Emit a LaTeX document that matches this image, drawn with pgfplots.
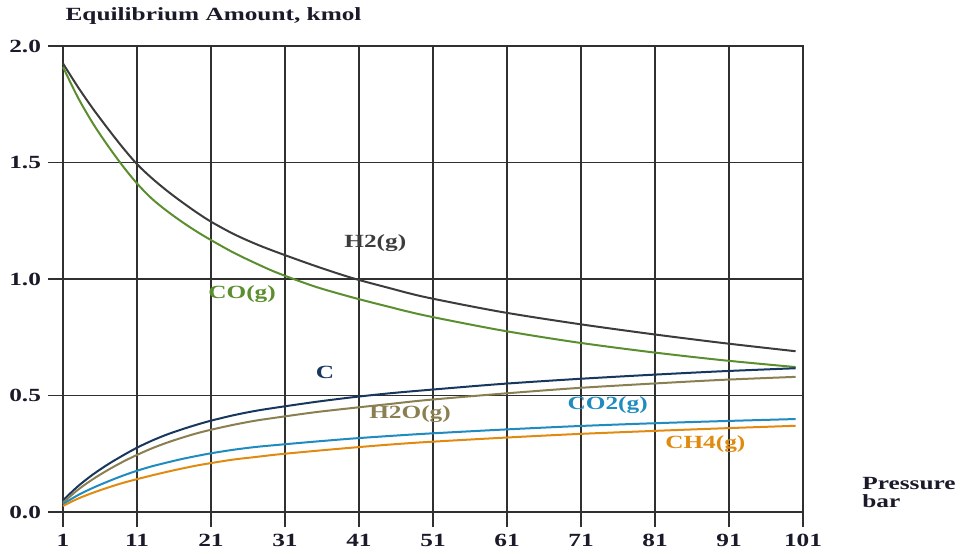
\documentclass[border=0pt]{standalone}
\usepackage{pgfplots}
\pgfplotsset{compat=1.18}
\usepackage{fontspec}
\setmainfont[FakeStretch=1.36]{Liberation Serif}
\definecolor{cH}{HTML}{3C3C3C}
\definecolor{cCO}{HTML}{5B8E2E}
\definecolor{cC}{HTML}{17375E}
\definecolor{cHO}{HTML}{8A7F50}
\definecolor{cCOO}{HTML}{1F8BBF}
\definecolor{cCH}{HTML}{E08B0F}
\definecolor{cgrid}{HTML}{303030}
\definecolor{ctxt}{HTML}{1A1A2A}
\begin{document}
\begin{tikzpicture}
\useasboundingbox (-31.5pt,-20.5pt) rectangle (448.5pt,256pt);
\begin{axis}[
  scale only axis, width=370pt, height=233pt,
  at={(0,0)}, anchor=south west,
  xmin=1, xmax=101, ymin=0, ymax=2,
  xtick={1,11,...,101}, ytick={0,0.5,1,1.5,2},
  grid=major, grid style={line width=0.65pt, color=cgrid},
  axis line style={line width=0.65pt, color=cgrid},
  tick style={line width=0.65pt, color=cgrid},
  tick align=outside, major tick length=7.5pt, tick pos=left,
  yticklabel style={/pgf/number format/.cd, fixed, fixed zerofill, precision=1},
  /pgf/number format/assume math mode=true,
  ticklabel style={font=\bfseries\fontsize{9.3}{10}\selectfont, text=ctxt},
  clip=false,
  every axis plot/.append style={line width=1pt, smooth, no markers},
]
\addplot[cH] coordinates {(1,1.925)(3,1.825)(5,1.733)(7,1.648)(9,1.567)(11,1.493)(13,1.433)(15,1.38)(17,1.332)(19,1.287)(21,1.246)(24,1.194)(27,1.151)(30,1.114)(35,1.057)(40,1.005)(45,0.962)(50,0.922)(60,0.86)(70,0.81)(80,0.766)(90,0.726)(100,0.69)};
\addplot[cCO] coordinates {(1,1.91)(3,1.78)(5,1.67)(7,1.575)(9,1.488)(11,1.41)(13,1.345)(15,1.293)(17,1.247)(19,1.205)(21,1.167)(24,1.114)(27,1.068)(30,1.026)(35,0.968)(40,0.922)(45,0.881)(50,0.843)(60,0.781)(70,0.73)(80,0.688)(90,0.652)(100,0.622)};
\addplot[cC] coordinates {(1,0.05)(3,0.11)(5,0.16)(7,0.203)(9,0.241)(11,0.276)(13,0.306)(15,0.332)(17,0.354)(19,0.374)(21,0.392)(24,0.415)(27,0.434)(30,0.449)(35,0.472)(40,0.492)(45,0.509)(50,0.523)(60,0.549)(70,0.57)(80,0.588)(90,0.604)(100,0.617)};
\addplot[cHO] coordinates {(1,0.04)(3,0.095)(5,0.14)(7,0.179)(9,0.214)(11,0.245)(13,0.273)(15,0.297)(17,0.318)(19,0.337)(21,0.353)(24,0.374)(27,0.392)(30,0.406)(35,0.428)(40,0.446)(45,0.463)(50,0.48)(60,0.507)(70,0.531)(80,0.55)(90,0.567)(100,0.58)};
\addplot[cCOO] coordinates {(1,0.034)(3,0.072)(5,0.103)(7,0.13)(9,0.155)(11,0.177)(13,0.196)(15,0.212)(17,0.227)(19,0.24)(21,0.252)(24,0.267)(27,0.279)(30,0.288)(35,0.302)(40,0.315)(45,0.326)(50,0.336)(60,0.353)(70,0.368)(80,0.38)(90,0.39)(100,0.399)};
\addplot[cCH] coordinates {(1,0.026)(3,0.057)(5,0.082)(7,0.104)(9,0.124)(11,0.141)(13,0.157)(15,0.172)(17,0.186)(19,0.199)(21,0.21)(24,0.225)(27,0.236)(30,0.247)(35,0.262)(40,0.276)(45,0.289)(50,0.3)(60,0.318)(70,0.334)(80,0.347)(90,0.359)(100,0.37)};
\begin{scope}[font=\bfseries\fontsize{9.3}{10}\selectfont]
\node[text=cH] at (axis cs:43.2,1.155) {H2(g)};
\node[text=cCO] at (axis cs:25.2,0.936) {CO(g)};
\node[text=cC] at (axis cs:36.4,0.597) {C};
\node[text=cHO] at (axis cs:47.9,0.42) {H2O(g)};
\node[text=cCOO] at (axis cs:74.6,0.46) {CO2(g)};
\node[text=cCH] at (axis cs:87.8,0.29) {CH4(g)};
\node[text=ctxt, anchor=base west, inner sep=0pt] at (axis description cs:0.003,1.0558) {Equilibrium Amount, kmol};
\node[text=ctxt, anchor=base west, inner sep=0pt] at (axis description cs:1.0797,0.049) {Pressure};
\node[text=ctxt, anchor=base west, inner sep=0pt] at (axis description cs:1.0797,0.0086) {bar};
\end{scope}
\end{axis}
\end{tikzpicture}
\end{document}
